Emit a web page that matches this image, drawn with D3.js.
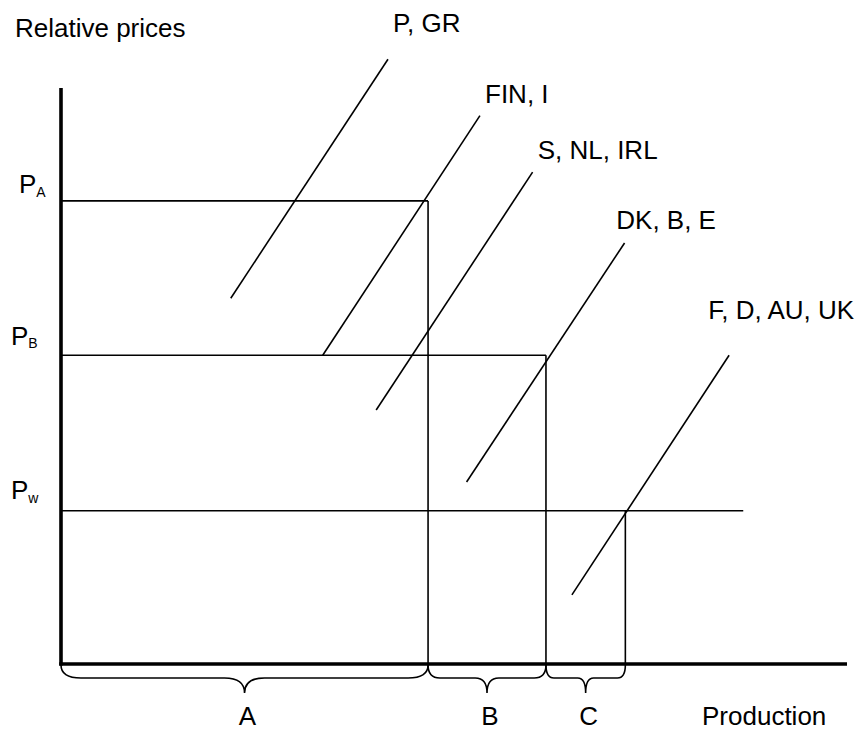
<!DOCTYPE html>
<html>
<head>
<meta charset="utf-8">
<script src="https://cdn.jsdelivr.net/npm/d3@7"></script>
<style>
  html, body { margin: 0; padding: 0; background: #fff; }
  svg { display: block; }
  text { font-family: "Liberation Sans", Arial, sans-serif; fill: #000; }
</style>
</head>
<body>
<script>
// ---- data (abstract production / price units) ----
const priceNames  = ["A", "B", "w"];
const priceLevels = [80.4, 53.6, 26.6];          // P_A, P_B, P_w
const groupNames  = ["A", "B", "C"];
const groupEnds   = [46.7, 61.7, 71.8];          // cumulative production at end of A, B, C
const worldLineEnd = 86.8;                       // extent of the P_w line
const supplyLabels = ["P, GR", "FIN, I", "S, NL, IRL", "DK, B, E", "F, D, AU, UK"];
const supplyX0 = [21.6, 33.3, 40.1, 51.6, 65.0];
const supplyY0 = [63.5, 53.6, 44.1, 31.6, 12.0];
const supplyX1 = [41.6, 53.3, 60.0, 71.7, 85.0];
const supplyY1 = [105.0, 95.2, 85.4, 73.1, 53.6];
const supplyLabelX = [42.5, 54.2, 60.9, 70.9, 82.6];
const supplyLabelY = [109.7, 97.4, 87.7, 75.5, 59.9];
const yAxisTitle = "Relative prices";
const xAxisTitle = "Production";

// ---- layout ----
const W = 866, H = 731;
const x = d3.scaleLinear().domain([0, 100]).range([61, 847]);
const y = d3.scaleLinear().domain([0, 100]).range([664, 88]);

const svg = d3.select("body").append("svg").attr("width", W).attr("height", H);

const thin = 1.6, thick = 3.6, fs = 26, subFs = 14;

// horizontal price lines
const hEnds = [groupEnds[0], groupEnds[1], worldLineEnd];
svg.append("g").selectAll("line").data(priceLevels).join("line")
  .attr("x1", x(0)).attr("x2", (d, i) => x(hEnds[i]))
  .attr("y1", d => y(d)).attr("y2", d => y(d))
  .attr("stroke", "#000").attr("stroke-width", thin);

// vertical lines at group boundaries
svg.append("g").selectAll("line").data(groupEnds).join("line")
  .attr("x1", d => x(d)).attr("x2", d => x(d))
  .attr("y1", (d, i) => y(priceLevels[i])).attr("y2", y(0))
  .attr("stroke", "#000").attr("stroke-width", thin);

// supply lines
svg.append("g").selectAll("line").data(supplyLabels).join("line")
  .attr("x1", (d, i) => x(supplyX0[i])).attr("y1", (d, i) => y(supplyY0[i]))
  .attr("x2", (d, i) => x(supplyX1[i])).attr("y2", (d, i) => y(supplyY1[i]))
  .attr("stroke", "#000").attr("stroke-width", thin);

// supply labels
svg.append("g").selectAll("text").data(supplyLabels).join("text")
  .attr("x", (d, i) => x(supplyLabelX[i]) - 2)
  .attr("y", (d, i) => y(supplyLabelY[i]))
  .attr("font-size", fs)
  .text(d => d);

// axes
svg.append("line").attr("x1", x(0)).attr("x2", x(0)).attr("y1", y(100)).attr("y2", y(0) + 1.5)
  .attr("stroke", "#000").attr("stroke-width", thick);
svg.append("line").attr("x1", x(0) - 1.8).attr("x2", x(100)).attr("y1", y(0)).attr("y2", y(0))
  .attr("stroke", "#000").attr("stroke-width", thick);

// price labels
const priceLabelX = [19, 11, 11];
const priceLabelDy = [-7.4, -10.5, -11.7];
const pl = svg.append("g").selectAll("text").data(priceLevels).join("text")
  .attr("x", (d, i) => priceLabelX[i])
  .attr("y", (d, i) => y(d) + priceLabelDy[i])
  .attr("font-size", fs);
pl.append("tspan").text("P");
pl.append("tspan").attr("font-size", subFs).attr("dy", 3.5).text((d, i) => priceNames[i]);

// braces
function bracePath(x1, x2, y0, y1, y2) {
  const mid = (x1 + x2) / 2;
  const w = Math.min(20, (x2 - x1) / 10);
  const p = d3.path();
  p.moveTo(x1, y0);
  p.quadraticCurveTo(x1, y1, x1 + w, y1);
  p.lineTo(mid - w, y1);
  p.quadraticCurveTo(mid, y1, mid, y2);
  p.quadraticCurveTo(mid, y1, mid + w, y1);
  p.lineTo(x2 - w, y1);
  p.quadraticCurveTo(x2, y1, x2, y0);
  return p.toString();
}
const starts = [0, groupEnds[0], groupEnds[1]];
svg.append("g").selectAll("path").data(groupNames).join("path")
  .attr("d", (d, i) => bracePath(x(starts[i]), x(groupEnds[i]), y(0) + 1, y(0) + 14, y(0) + 29))
  .attr("fill", "none").attr("stroke", "#000").attr("stroke-width", thin);

svg.append("g").selectAll("text").data(groupNames).join("text")
  .attr("x", (d, i) => (x(starts[i]) + x(groupEnds[i])) / 2 + 3)
  .attr("y", y(0) + 61)
  .attr("text-anchor", "middle")
  .attr("font-size", fs)
  .text(d => d);

// axis titles
svg.append("text").attr("x", 15).attr("y", 37).attr("font-size", fs).text(yAxisTitle);
svg.append("text").attr("x", 702).attr("y", 725).attr("font-size", fs).text(xAxisTitle);
</script>
</body>
</html>
